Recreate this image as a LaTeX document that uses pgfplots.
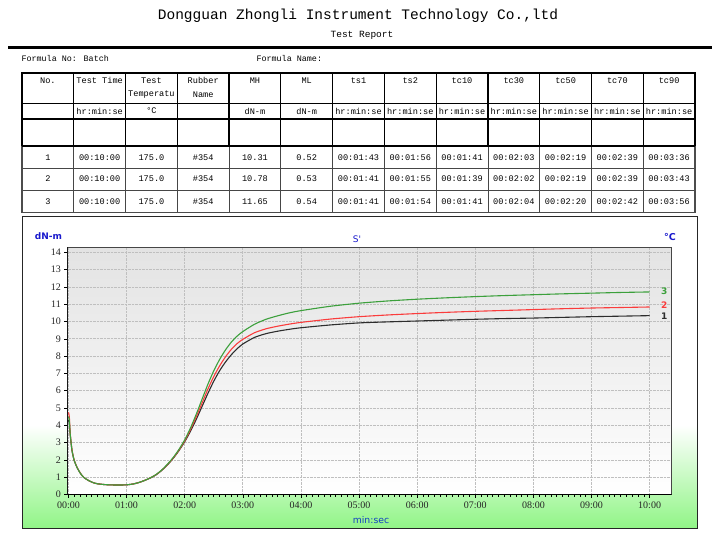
\documentclass[border=0pt]{standalone}
\usepackage{pgfplots}
\pgfplotsset{compat=1.18}
\usepackage{fontspec}
\setmainfont{Liberation Serif}
\newfontfamily\mono{Liberation Mono}
\newfontfamily\dejavu{DejaVu Sans}
\definecolor{chartgreen}{RGB}{145,245,135}
\definecolor{lblue}{RGB}{25,25,205}
\definecolor{c1}{RGB}{45,45,45}
\definecolor{c2}{RGB}{250,60,60}
\definecolor{c3}{RGB}{60,160,60}
\begin{document}
\begin{tikzpicture}[x=1pt,y=1pt]
\useasboundingbox (0,0) rectangle (720,-550);
\fill[white] (0,0) rectangle (720,-550);
% header
\node[font=\mono\fontsize{14.5}{16}\selectfont] at (358,-16) {Dongguan Zhongli Instrument Technology Co.,ltd};
\node[font=\mono\fontsize{9.5}{11}\selectfont] at (362,-35) {Test Report};
\draw[line width=2.2pt] (8,-47.5) -- (712,-47.5);
\node[font=\mono\fontsize{8.4}{10}\selectfont, anchor=west] at (18,-58) {Formula No: Batch};
\node[font=\mono\fontsize{8.4}{10}\selectfont, anchor=west] at (253,-58) {Formula Name:};
% table grid - data part
\foreach \i in {1,...,12} \draw[gray!55!black, line width=0.8pt] ({22+\i*51.77},-146) -- ({22+\i*51.77},-212.7);
\foreach \y in {168.3,190} \draw[gray!55!black, line width=0.8pt] (22,-\y) -- (695,-\y);
\draw[gray!60!black, line width=1.5pt] (22,-146) -- (22,-212.7) -- (695,-212.7) -- (695,-146);
% table grid - header part
\foreach \i in {1,...,12} \draw[black, line width=1.2pt] ({22+\i*51.77},-73.3) -- ({22+\i*51.77},-146);
\draw[black, line width=1pt] (22,-103.3) -- (695,-103.3);
\draw[black, line width=1.6pt] (22,-119) -- (695,-119);
\draw[black, line width=1.6pt] (22,-146) -- (695,-146);
\draw[black, line width=1.8pt] (22,-146) -- (22,-73.3) -- (695,-73.3) -- (695,-146);
% table text
\begin{scope}[every node/.style={font=\mono\fontsize{8.6}{10}\selectfont, inner sep=0pt}]
\foreach \t [count=\i from 0] in {No.,Test Time,Test,Rubber,MH,ML,ts1,ts2,tc10,tc30,tc50,tc70,tc90}
  \node at ({22+(\i+0.5)*51.77},-80.5) {\t};
\node at ({22+2.5*51.77},-94.5) {Temperatu};
\node at ({22+3.5*51.77},-94.5) {Name};
\foreach \t [count=\i from 0] in {{},hr:min:se,{°C},{},dN-m,dN-m,hr:min:se,hr:min:se,hr:min:se,hr:min:se,hr:min:se,hr:min:se,hr:min:se}
  \node at ({22+(\i+0.5)*51.77},-111) {\t};
\foreach \t [count=\i from 0] in {1,00:10:00,175.0,\#354,10.31,0.52,00:01:43,00:01:56,00:01:41,00:02:03,00:02:19,00:02:39,00:03:36}
  \node at ({22+(\i+0.5)*51.77},-157.3) {\t};
\foreach \t [count=\i from 0] in {2,00:10:00,175.0,\#354,10.78,0.53,00:01:41,00:01:55,00:01:39,00:02:02,00:02:19,00:02:39,00:03:43}
  \node at ({22+(\i+0.5)*51.77},-179) {\t};
\foreach \t [count=\i from 0] in {3,00:10:00,175.0,\#354,11.65,0.54,00:01:41,00:01:54,00:01:41,00:02:04,00:02:20,00:02:42,00:03:56}
  \node at ({22+(\i+0.5)*51.77},-201.3) {\t};
\end{scope}
% chart frame
\fill[white] (22,-216.7) rectangle (697,-528);
\shade[top color=white, bottom color=chartgreen] (22,-425) rectangle (697,-528);
\draw[gray!30!black, line width=1pt] (22,-216.7) rectangle (697,-528);
\node[font=\dejavu\bfseries\fontsize{9}{10}\selectfont, text=lblue] at (48.5,-236) {dN-m};
\node[font=\dejavu\fontsize{9}{10}\selectfont, text=lblue] at (357,-239.5) {S'};
\node[font=\dejavu\bfseries\fontsize{9.5}{10}\selectfont, text=lblue] at (670,-237) {°C};
\node[font=\dejavu\fontsize{9.3}{10}\selectfont, text=lblue!80!cyan!90!black] at (371,-520) {min:sec};
\begin{axis}[
  at={(67.3pt,-494.5pt)}, anchor=south west,
  scale only axis, width=604.4pt, height=247.2pt,
  xmin=-0.02, xmax=10.38, ymin=0, ymax=14.29,
  xtick={0,...,10},
  xticklabels={00:00,01:00,02:00,03:00,04:00,05:00,06:00,07:00,08:00,09:00,10:00},
  ytick={0,...,14},
  minor x tick num=9,
  grid=major,
  major grid style={densely dotted, gray!50, line width=0.8pt},
  axis line style={gray!55!black, line width=0.7pt},
  tick align=outside, xtick pos=left, ytick pos=left,
  major tick length=3pt, minor tick length=2pt,
  every tick/.style={black, line width=0.6pt},
  axis background/.style={top color=gray!22, bottom color=white},
  /pgf/number format/assume math mode=true,
  tick label style={font=\fontsize{10}{12}\selectfont, text=black!85},
  xticklabel style={yshift=-1pt},
  every axis plot/.append style={smooth, tension=0.4, line width=1.1pt, no markers},
]
\addplot[c1] table {
0 4.3
0.015 4.1
0.03 3.45
0.06 2.55
0.1 1.95
0.15 1.55
0.2 1.25
0.26 1.0
0.35 0.8
0.43 0.68
0.5 0.62
0.6 0.58
0.7 0.56
0.8 0.55
0.9 0.55
1.0 0.56
1.1 0.6
1.2 0.68
1.3 0.8
1.4 0.94
1.5 1.12
1.6 1.38
1.7 1.7
1.8 2.08
1.9 2.53
2.0 3.05
2.1 3.66
2.2 4.35
2.3 5.1
2.4 5.85
2.5 6.55
2.6 7.15
2.7 7.65
2.8 8.07
2.9 8.42
3.0 8.7
3.2 9.08
3.4 9.3
3.6 9.44
3.8 9.55
4.0 9.64
4.5 9.8
5.0 9.92
5.5 9.98
6.0 10.03
6.5 10.08
7.0 10.13
7.5 10.17
8.0 10.2
8.5 10.24
9.0 10.28
9.5 10.31
10.0 10.34
};
\addplot[c2] table {
0 4.75
0.015 4.5
0.03 3.55
0.06 2.6
0.1 1.97
0.15 1.56
0.2 1.26
0.26 1.0
0.35 0.8
0.43 0.68
0.5 0.62
0.6 0.58
0.7 0.56
0.8 0.55
0.9 0.55
1.0 0.56
1.1 0.6
1.2 0.68
1.3 0.8
1.4 0.95
1.5 1.13
1.6 1.39
1.7 1.72
1.8 2.1
1.9 2.56
2.0 3.1
2.1 3.76
2.2 4.5
2.3 5.3
2.4 6.1
2.5 6.82
2.6 7.43
2.7 7.95
2.8 8.38
2.9 8.72
3.0 8.97
3.2 9.35
3.4 9.58
3.6 9.73
3.8 9.85
4.0 9.95
4.5 10.14
5.0 10.28
5.5 10.38
6.0 10.46
6.5 10.53
7.0 10.59
7.5 10.64
8.0 10.69
8.5 10.74
9.0 10.78
9.5 10.81
10.0 10.84
};
\addplot[c3] table {
0 4.5
0.015 4.3
0.03 3.5
0.06 2.57
0.1 1.96
0.15 1.55
0.2 1.25
0.26 1.0
0.35 0.8
0.43 0.68
0.5 0.62
0.6 0.58
0.7 0.56
0.8 0.55
0.9 0.55
1.0 0.56
1.1 0.6
1.2 0.68
1.3 0.8
1.4 0.95
1.5 1.14
1.6 1.4
1.7 1.74
1.8 2.13
1.9 2.6
2.0 3.16
2.1 3.85
2.2 4.65
2.3 5.52
2.4 6.38
2.5 7.15
2.6 7.8
2.7 8.35
2.8 8.8
2.9 9.15
3.0 9.42
3.2 9.84
3.4 10.13
3.6 10.33
3.8 10.5
4.0 10.63
4.5 10.88
5.0 11.06
5.5 11.19
6.0 11.29
6.5 11.37
7.0 11.44
7.5 11.5
8.0 11.55
8.5 11.6
9.0 11.64
9.5 11.68
10.0 11.71
};
\node[font=\dejavu\bfseries\fontsize{9}{10}\selectfont, text=c3] at (axis cs:10.25,11.75) {3};
\node[font=\dejavu\bfseries\fontsize{9}{10}\selectfont, text=c2] at (axis cs:10.25,10.92) {2};
\node[font=\dejavu\bfseries\fontsize{9}{10}\selectfont, text=c1] at (axis cs:10.25,10.3) {1};
\draw[black, line width=1.6pt] (rel axis cs:0,0) -- (rel axis cs:0,1);
\draw[black, line width=1.4pt] (rel axis cs:0,0) -- (rel axis cs:1,0);
\end{axis}
\end{tikzpicture}
\end{document}
